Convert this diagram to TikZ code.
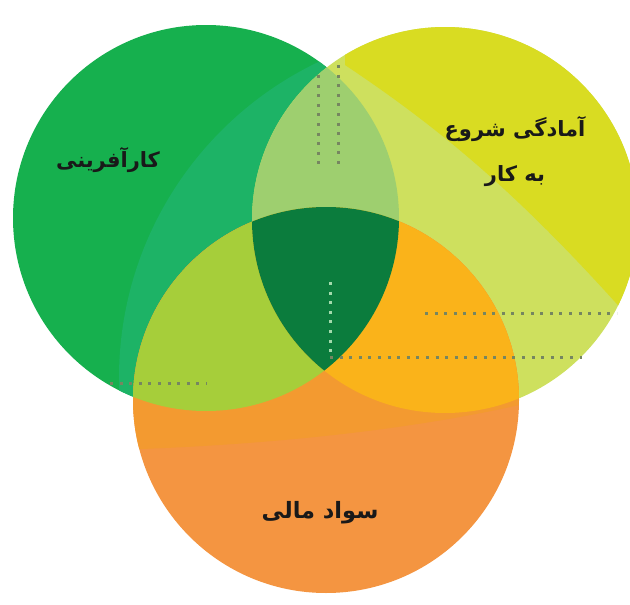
\documentclass[tikz,border=0pt]{standalone}
\usepackage{fontspec}
\newfontfamily\farsifont[Script=Arabic]{DejaVu Sans}
\TeXXeTstate=1
\usetikzlibrary{positioning}

\definecolor{grnbase}{HTML}{16B04E}
\definecolor{grnband}{HTML}{1DB366}
\definecolor{yelbase}{HTML}{D9DC22}
\definecolor{yelband}{HTML}{CEE05E}
\definecolor{orgbase}{HTML}{F49541}
\definecolor{orgtop}{HTML}{F39A30}
\definecolor{lensgy}{HTML}{9ECF6F}
\definecolor{lensgo}{HTML}{A6CE3A}
\definecolor{lensyo}{HTML}{FAB31A}
\definecolor{core}{HTML}{0B7C3D}
\definecolor{dotgray}{HTML}{768660}
\definecolor{dotlight}{HTML}{A2DAAC}

\def\grncirc{(206,218) circle (193pt)}
\def\yelcirc{(445,220) circle (193pt)}
\def\orgcirc{(326,400) circle (193pt)}

\begin{document}
\begin{tikzpicture}[
    x=1pt, y=-1pt,
    lbl/.style={font=\farsifont\bfseries\fontsize{21}{45}\selectfont, text=black!90, align=center, inner sep=0pt},
    dotline/.style={dotgray, line width=3pt, dash pattern=on 3pt off 6.6pt},
    dotcore/.style={dotline, dotlight}
]
\useasboundingbox (0,0) rectangle (630,605);
\fill[white] (0,0) rectangle (630,605);

\fill[grnbase] \grncirc;
\begin{scope}
  \clip \grncirc;
  \fill[grnband] (469,378) circle (350pt);
\end{scope}

\fill[yelband] \yelcirc;
\begin{scope}
  \clip \yelcirc;
  \fill[yelbase] (345,65) .. controls (450,135) and (530,205) .. (640,330) -- (650,0) -- (345,0) -- cycle;
\end{scope}

\fill[orgbase] \orgcirc;
\begin{scope}
  \clip \orgcirc;
  \fill[orgtop] (110,450) .. controls (260,446) and (420,430) .. (540,400) -- (540,200) -- (110,200) -- cycle;
\end{scope}

\begin{scope}
  \clip \grncirc;
  \fill[lensgy] \yelcirc;
  \fill[lensgo] \orgcirc;
\end{scope}
\begin{scope}
  \clip \yelcirc;
  \fill[lensyo] \orgcirc;
\end{scope}
\begin{scope}
  \clip \grncirc;
  \clip \yelcirc;
  \fill[core] \orgcirc;
\end{scope}

\coordinate (lensLa) at (318,75);
\coordinate (lensLb) at (318,167);
\coordinate (lensRa) at (338,65);
\coordinate (lensRb) at (338,167);
\coordinate (coreT) at (330,282);
\coordinate (coreB) at (330,357);
\coordinate (rowAe) at (582,357);
\coordinate (rowBa) at (425,313);
\coordinate (rowBe) at (617,313);
\coordinate (rowCa) at (110,383);
\coordinate (rowCe) at (207,383);

\draw[dotline] (lensLa) -- (lensLb);
\draw[dotline] (lensRa) -- (lensRb);
\draw[dotcore] (coreT) -- (coreB);
\draw[dotline] (coreB) -- (rowAe);
\draw[dotline] (rowBa) -- (rowBe);
\draw[dotline] (rowCa) -- (rowCe);

\node[lbl] (entre) at (108,160) {\beginR کارآفرینی\endR};
\node[lbl] (ready) at (515,152) {\beginR آمادگی شروع\endR\\\beginR به کار\endR};
\node[lbl, font=\farsifont\bfseries\fontsize{22.5}{45}\selectfont] (fin) at (320,513) {\beginR سواد مالی\endR};
\end{tikzpicture}
\end{document}
